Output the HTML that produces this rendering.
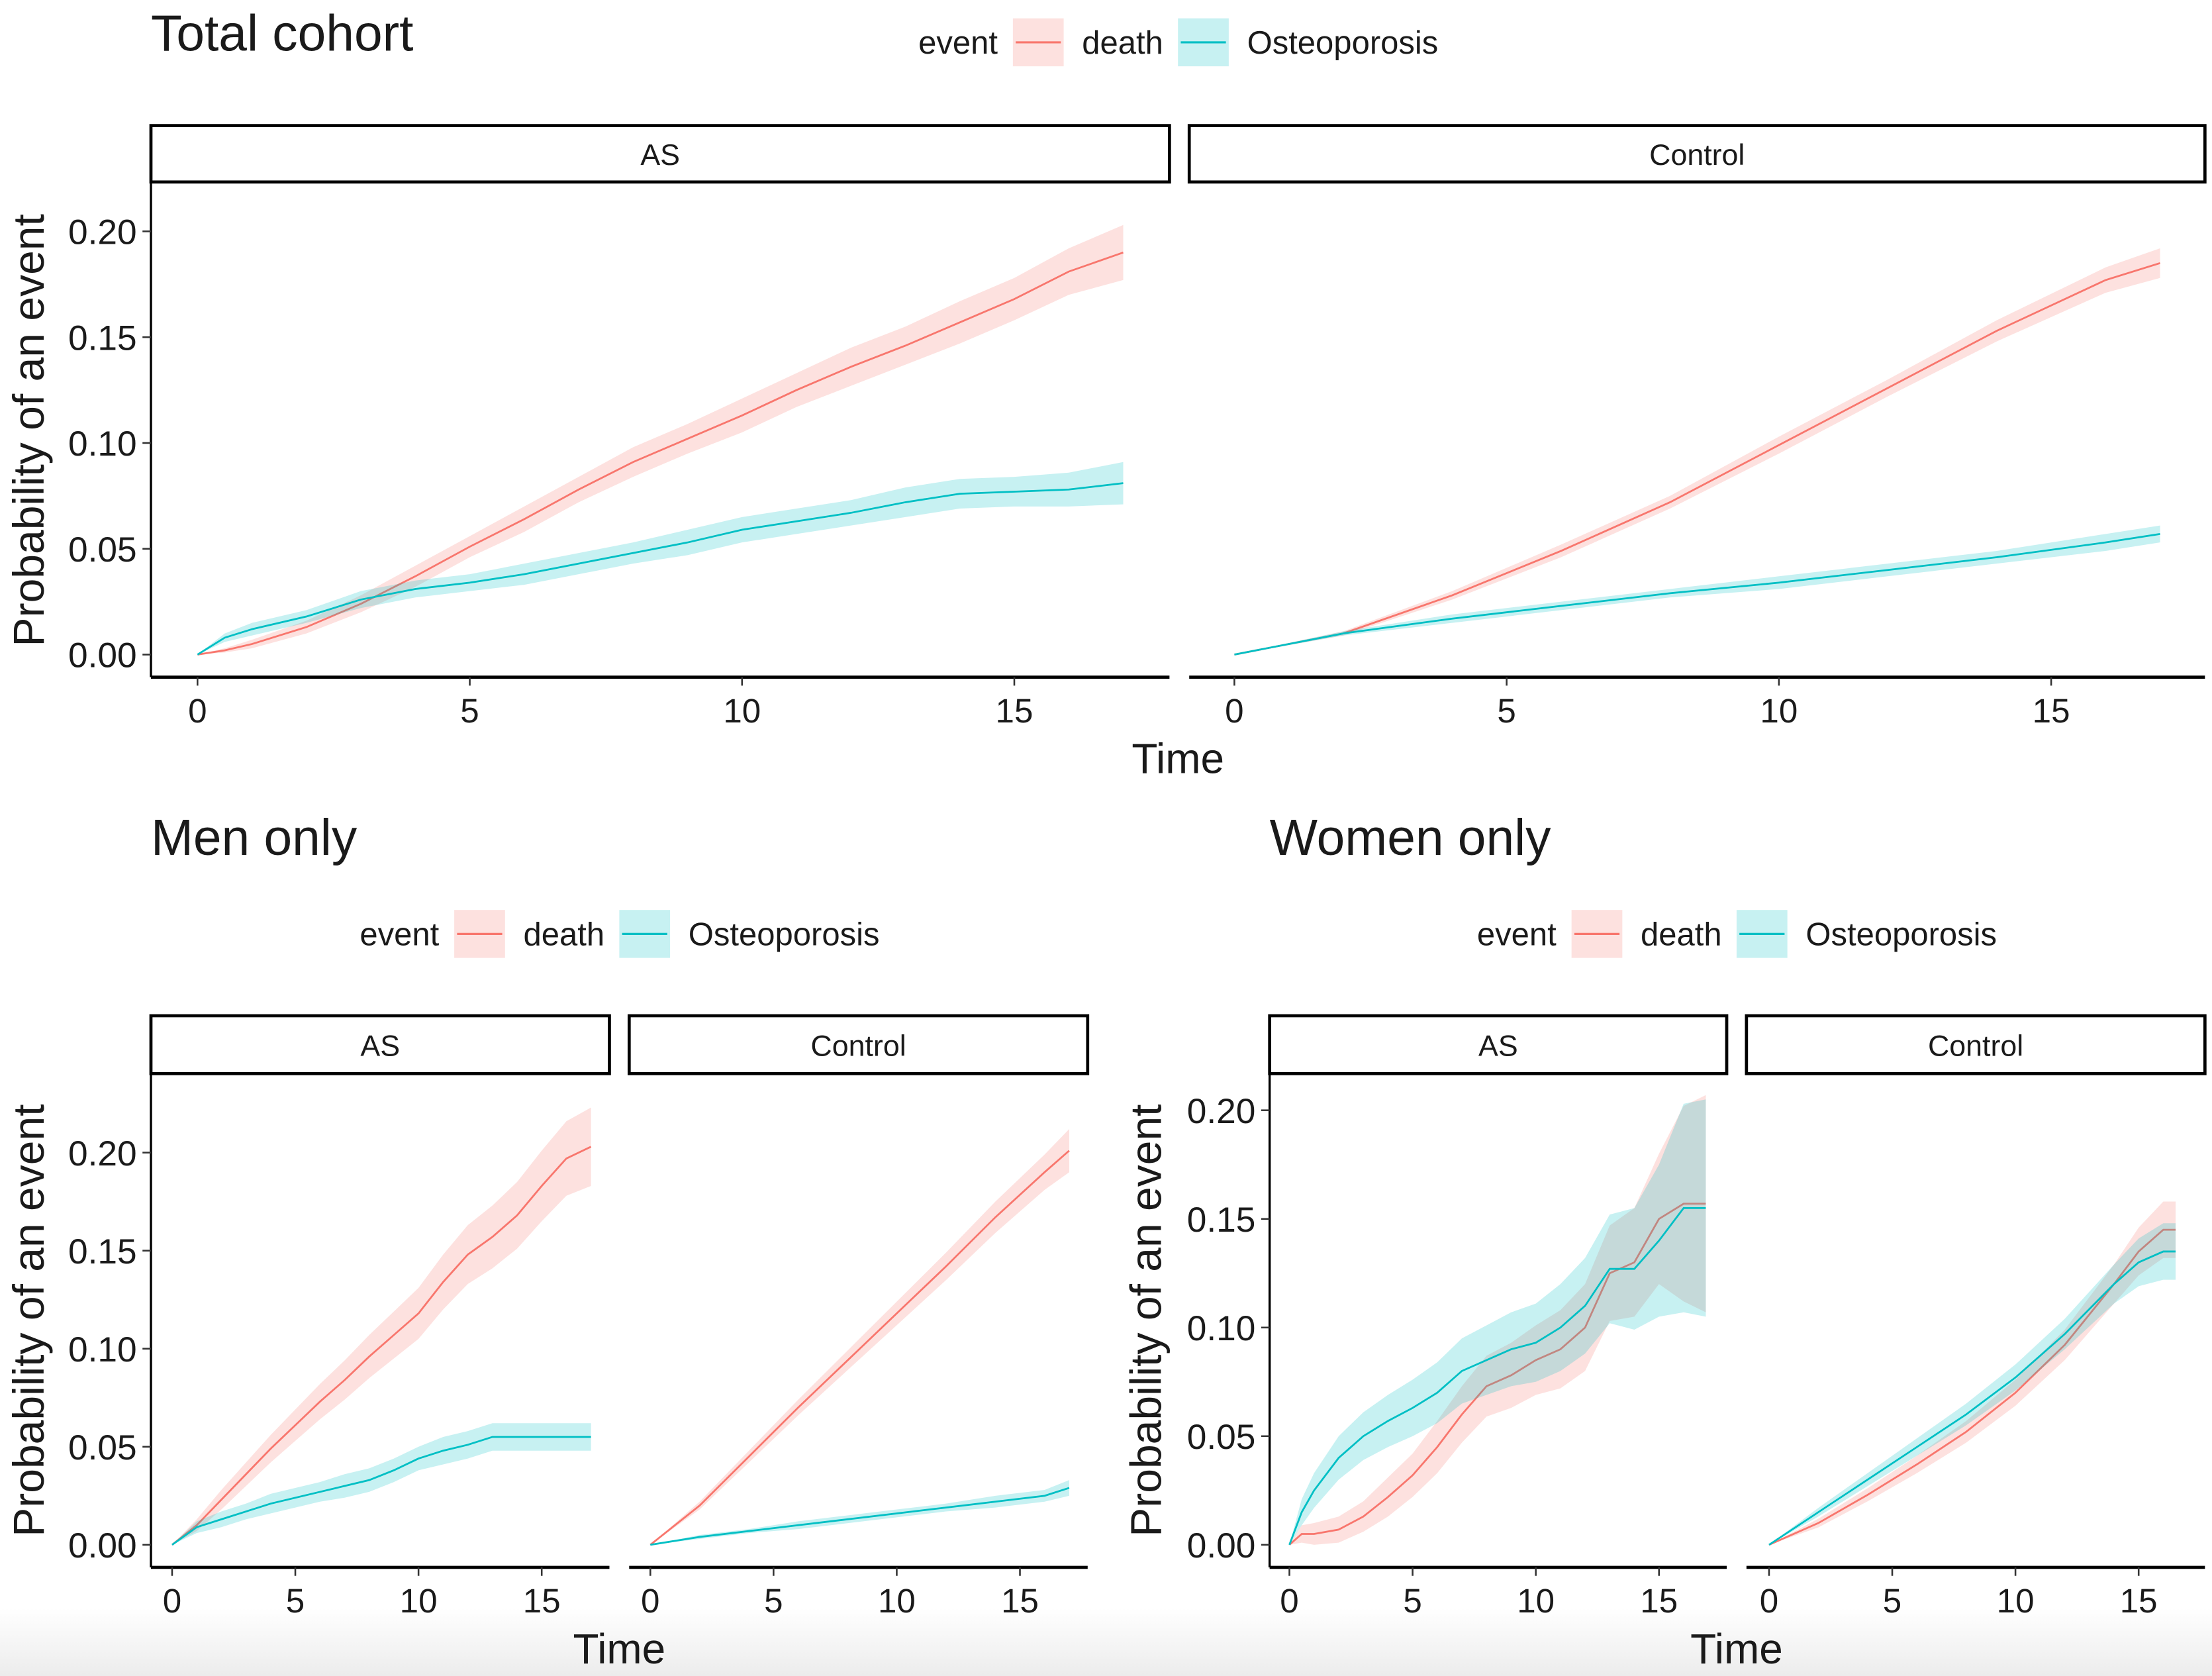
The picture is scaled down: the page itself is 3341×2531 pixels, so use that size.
<!DOCTYPE html>
<html><head><meta charset="utf-8">
<style>
html,body{margin:0;padding:0;background:#fff;}
svg{display:block;}
text{font-family:"Liberation Sans",Arial,sans-serif;}
</style></head>
<body>
<svg id="chart" width="3341" height="2531" viewBox="0 0 1568 1188" preserveAspectRatio="none" xmlns="http://www.w3.org/2000/svg">
<defs><linearGradient id="bg" x1="0" y1="0" x2="0" y2="1"><stop offset="0" stop-color="#ffffff"/><stop offset="1" stop-color="#ececec"/></linearGradient></defs>
<rect x="0" y="0" width="1568" height="1188" fill="#fff"/>
<rect x="0" y="1140" width="1568" height="48" fill="url(#bg)"/>
<g id="root"></g>
</svg>
<script>
// ---- data ----
const yTicks = [0, 0.05, 0.10, 0.15, 0.20];
const yTickLabels = ["0.00", "0.05", "0.10", "0.15", "0.20"];
const xTicks = [0, 5, 10, 15];
const xTickLabels = ["0", "5", "10", "15"];
const legendLabels = ["death", "Osteoporosis"];

const totAsT = [0, 0.5, 1, 2, 3, 4, 5, 6, 7, 8, 9, 10, 11, 12, 13, 14, 15, 16, 17];
const totAsDeath = [0, 0.002, 0.005, 0.013, 0.024, 0.037, 0.051, 0.064, 0.078, 0.091, 0.102, 0.113, 0.125, 0.136, 0.146, 0.157, 0.168, 0.181, 0.190];
const totAsDeathCI = [0, 0.001, 0.002, 0.003, 0.004, 0.005, 0.005, 0.006, 0.006, 0.007, 0.007, 0.008, 0.008, 0.009, 0.009, 0.010, 0.010, 0.011, 0.013];
const totAsOst = [0, 0.008, 0.012, 0.018, 0.026, 0.031, 0.034, 0.038, 0.043, 0.048, 0.053, 0.059, 0.063, 0.067, 0.072, 0.076, 0.077, 0.078, 0.081];
const totAsOstCI = [0, 0.002, 0.003, 0.003, 0.004, 0.004, 0.004, 0.005, 0.005, 0.005, 0.006, 0.006, 0.006, 0.006, 0.007, 0.007, 0.007, 0.008, 0.010];

const totCtT = [0, 2, 4, 6, 8, 10, 12, 14, 16, 17];
const totCtDeath = [0, 0.010, 0.028, 0.049, 0.072, 0.099, 0.126, 0.153, 0.177, 0.185];
const totCtDeathCI = [0, 0.001, 0.002, 0.003, 0.003, 0.004, 0.004, 0.005, 0.006, 0.007];
const totCtOst = [0, 0.010, 0.017, 0.023, 0.029, 0.034, 0.040, 0.046, 0.053, 0.057];
const totCtOstCI = [0, 0.001, 0.002, 0.002, 0.002, 0.003, 0.003, 0.003, 0.004, 0.004];

const menAsT = [0, 1, 2, 3, 4, 5, 6, 7, 8, 9, 10, 11, 12, 13, 14, 15, 16, 17];
const menAsDeath = [0, 0.010, 0.023, 0.036, 0.049, 0.061, 0.073, 0.084, 0.096, 0.107, 0.118, 0.134, 0.148, 0.157, 0.168, 0.183, 0.197, 0.203];
const menAsDeathCI = [0, 0.003, 0.005, 0.006, 0.007, 0.008, 0.009, 0.010, 0.011, 0.012, 0.013, 0.014, 0.015, 0.016, 0.017, 0.018, 0.019, 0.020];
const menAsOst = [0, 0.009, 0.013, 0.017, 0.021, 0.024, 0.027, 0.030, 0.033, 0.038, 0.044, 0.048, 0.051, 0.055, 0.055, 0.055, 0.055, 0.055];
const menAsOstCI = [0, 0.003, 0.004, 0.004, 0.005, 0.005, 0.005, 0.006, 0.006, 0.006, 0.006, 0.007, 0.007, 0.007, 0.007, 0.007, 0.007, 0.007];

const menCtT = [0, 2, 4, 6, 8, 10, 12, 14, 16, 17];
const menCtDeath = [0, 0.020, 0.045, 0.070, 0.094, 0.118, 0.142, 0.167, 0.190, 0.201];
const menCtDeathCI = [0, 0.002, 0.003, 0.004, 0.005, 0.006, 0.007, 0.008, 0.009, 0.011];
const menCtOst = [0, 0.004, 0.007, 0.010, 0.013, 0.016, 0.019, 0.022, 0.025, 0.029];
const menCtOstCI = [0, 0.001, 0.001, 0.002, 0.002, 0.002, 0.002, 0.003, 0.003, 0.004];

const womAsT = [0, 0.5, 1, 2, 3, 4, 5, 6, 7, 8, 9, 10, 11, 12, 13, 14, 15, 16, 16.9];
const womAsDeath = [0, 0.005, 0.005, 0.007, 0.013, 0.022, 0.032, 0.045, 0.060, 0.073, 0.078, 0.085, 0.090, 0.100, 0.125, 0.130, 0.150, 0.157, 0.157];
const womAsDeathCI = [0, 0.004, 0.005, 0.006, 0.007, 0.009, 0.010, 0.012, 0.013, 0.014, 0.015, 0.016, 0.018, 0.020, 0.022, 0.025, 0.030, 0.045, 0.050];
const womAsOst = [0, 0.015, 0.025, 0.040, 0.050, 0.057, 0.063, 0.070, 0.080, 0.085, 0.090, 0.093, 0.100, 0.110, 0.127, 0.127, 0.140, 0.155, 0.155];
const womAsOstCI = [0, 0.006, 0.008, 0.010, 0.011, 0.012, 0.013, 0.014, 0.015, 0.016, 0.017, 0.018, 0.020, 0.022, 0.025, 0.028, 0.035, 0.048, 0.050];

const womCtT = [0, 2, 4, 6, 8, 10, 12, 14, 15, 16, 16.5];
const womCtDeath = [0, 0.010, 0.023, 0.037, 0.052, 0.070, 0.092, 0.120, 0.135, 0.145, 0.145];
const womCtDeathCI = [0, 0.002, 0.003, 0.004, 0.005, 0.006, 0.007, 0.009, 0.011, 0.013, 0.013];
const womCtOst = [0, 0.015, 0.030, 0.045, 0.060, 0.077, 0.097, 0.120, 0.130, 0.135, 0.135];
const womCtOstCI = [0, 0.002, 0.003, 0.004, 0.005, 0.006, 0.007, 0.009, 0.011, 0.013, 0.013];

// ---- drawing ----
const NS = "http://www.w3.org/2000/svg";
const root = document.getElementById("root");
const RED = "#F8766D", TEAL = "#00BFC4";
function mk(tag, attrs, parent){
  const e = document.createElementNS(NS, tag);
  for (const k in attrs) e.setAttribute(k, attrs[k]);
  (parent || root).appendChild(e);
  return e;
}
function txt(str, x, y, size, anchor, parent, rot){
  const t = mk("text", {x:x, y:y, "font-size":size, "text-anchor":anchor||"start", fill:"#1a1a1a"}, parent);
  if (rot) t.setAttribute("transform", "rotate(-90 " + x + " " + y + ")");
  t.textContent = str;
  return t;
}

function drawSeries(g, t, vals, ci, color, sx, sy, name){
  let up = "", lo = "";
  for (let i = 0; i < t.length; i++) up += (i ? "L" : "M") + sx(t[i]).toFixed(2) + "," + sy(vals[i] + ci[i]).toFixed(2);
  for (let i = t.length - 1; i >= 0; i--) lo += "L" + sx(t[i]).toFixed(2) + "," + sy(Math.max(0, vals[i] - ci[i])).toFixed(2);
  const band = mk("path", {d: up + lo + "Z", fill: color, "fill-opacity": 0.22, stroke: "none"}, g);
  
  
  let d = "";
  for (let i = 0; i < t.length; i++) d += (i ? "L" : "M") + sx(t[i]).toFixed(2) + "," + sy(vals[i]).toFixed(2);
  const line = mk("path", {d: d, fill: "none", stroke: color, "stroke-width": 1.3}, g);
  
  
}

function drawPanel(p){
  const g = mk("g", {});
  
  
  const sx = v => p.x0 + (p.x15 - p.x0) * v / 15;
  const sy = v => p.y0 + (p.y20 - p.y0) * v / 0.20;
  const strip = mk("rect", {x: p.sl, y: p.stTop, width: p.sr - p.sl, height: p.stBot - p.stTop, fill: "#fff", stroke: "#000", "stroke-width": 2.2}, g);
  
  
  const st = txt(p.label, (p.sl + p.sr) / 2, (p.stTop + p.stBot) / 2 + 8, 21, "middle", g);
  
  
  drawSeries(g, p.t, p.death, p.deathCI, RED, sx, sy, p.name + '-death');
  drawSeries(g, p.t, p.ost, p.ostCI, TEAL, sx, sy, p.name + '-osteoporosis');
  const xa = mk("line", {x1: p.sl, x2: p.sr, y1: p.axY, y2: p.axY, stroke: "#000", "stroke-width": 2.2}, g);
  
  
  xTicks.forEach((v, i) => {
    mk("line", {x1: sx(v), x2: sx(v), y1: p.axY, y2: p.axY + 6, stroke: "#333", "stroke-width": 1.2}, g);
    const tl = txt(xTickLabels[i], sx(v), p.axY + 32, 24, "middle", g);
    
    
  });
  if (p.yAxis){
    const ya = mk("line", {x1: p.sl, x2: p.sl, y1: p.stBot, y2: p.axY, stroke: "#000", "stroke-width": 1.6}, g);
    
    
    yTicks.forEach((v, i) => {
      mk("line", {x1: p.sl - 6, x2: p.sl, y1: sy(v), y2: sy(v), stroke: "#333", "stroke-width": 1.2}, g);
      const yl = txt(yTickLabels[i], p.sl - 10, sy(v) + 9, 25, "end", g);
      
      
    });
  }
}

function drawLegend(x, y, name){
  const g = mk("g", {});
  
  
  const tt = txt("event", x, y + 8, 23, "start", g);
  
  
  const cols = [RED, TEAL];
  const offs = [67, 184];
  legendLabels.forEach((lab, i) => {
    const kx = x + offs[i];
    const key = mk("rect", {x: kx, y: y - 17, width: 36, height: 34, fill: cols[i], "fill-opacity": 0.22}, g);
    
    
    mk("line", {x1: kx + 2, x2: kx + 34, y1: y, y2: y, stroke: cols[i], "stroke-width": 1.5}, g);
    const lt = txt(lab, kx + 49, y + 8, 23, "start", g);
    
    
  });
}

// Total cohort
let t1 = txt("Total cohort", 107, 36, 36, "start");


drawLegend(651, 30, 'total-cohort-legend');
drawPanel({name:'total-as-panel', label:'AS', sl:107, sr:829, stTop:89, stBot:129, axY:480, x0:140, x15:719, y0:464, y20:164, yAxis:true,
  t:totAsT, death:totAsDeath, deathCI:totAsDeathCI, ost:totAsOst, ostCI:totAsOstCI});
drawPanel({name:'total-control-panel', label:'Control', sl:843, sr:1563, stTop:89, stBot:129, axY:480, x0:875, x15:1454, y0:464, y20:164, yAxis:false,
  t:totCtT, death:totCtDeath, deathCI:totCtDeathCI, ost:totCtOst, ostCI:totCtOstCI});
let a1 = txt("Time", 835, 548, 30, "middle");


let y1 = txt("Probability of an event", 31, 305, 31, "middle", null, true);



// Men only
let t2 = txt("Men only", 107, 606, 36, "start");


drawLegend(255, 662, 'men-legend');
drawPanel({name:'men-as-panel', label:'AS', sl:107, sr:432, stTop:720, stBot:761, axY:1111, x0:122, x15:384, y0:1095, y20:817, yAxis:true,
  t:menAsT, death:menAsDeath, deathCI:menAsDeathCI, ost:menAsOst, ostCI:menAsOstCI});
drawPanel({name:'men-control-panel', label:'Control', sl:446, sr:771, stTop:720, stBot:761, axY:1111, x0:461, x15:723, y0:1095, y20:817, yAxis:false,
  t:menCtT, death:menCtDeath, deathCI:menCtDeathCI, ost:menCtOst, ostCI:menCtOstCI});
let a2 = txt("Time", 439, 1179, 30, "middle");


let y2 = txt("Probability of an event", 31, 936, 31, "middle", null, true);



// Women only
let t3 = txt("Women only", 900, 606, 36, "start");


drawLegend(1047, 662, 'women-legend');
drawPanel({name:'women-as-panel', label:'AS', sl:900, sr:1224, stTop:720, stBot:761, axY:1111, x0:914, x15:1176, y0:1095, y20:787, yAxis:true,
  t:womAsT, death:womAsDeath, deathCI:womAsDeathCI, ost:womAsOst, ostCI:womAsOstCI});
drawPanel({name:'women-control-panel', label:'Control', sl:1238, sr:1563, stTop:720, stBot:761, axY:1111, x0:1254, x15:1516, y0:1095, y20:787, yAxis:false,
  t:womCtT, death:womCtDeath, deathCI:womCtDeathCI, ost:womCtOst, ostCI:womCtOstCI});
let a3 = txt("Time", 1231, 1179, 30, "middle");


let y3 = txt("Probability of an event", 823, 936, 31, "middle", null, true);


</script>
</body></html>
